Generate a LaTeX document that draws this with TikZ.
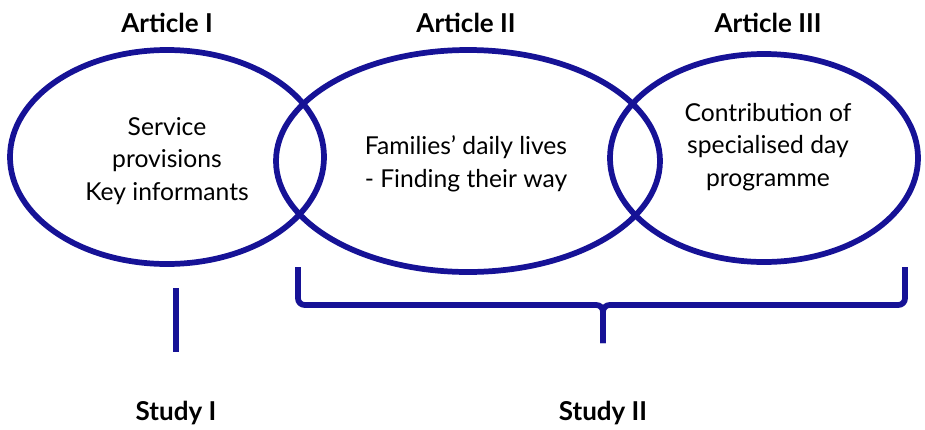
\documentclass[tikz,border=0pt]{standalone}
\usepackage{fontspec}
\setmainfont{Lato}
\usetikzlibrary{shapes.geometric,positioning}
\definecolor{Navy}{RGB}{22,18,150}

\begin{document}
\begin{tikzpicture}[x=0.75pt,y=-0.75pt,
    circ/.style={ellipse, draw=Navy, line width=4.3pt, inner sep=0pt},
    txt/.style={align=center, font=\fontsize{18.5}{24.5}\selectfont},
    head/.style={font=\fontsize{19.5}{22}\selectfont\bfseries},
    bar/.style={draw=Navy, line width=4.3pt, rounded corners=5pt},
    shade/.style={draw=black!12, line width=4.3pt, rounded corners=5pt, xshift=1.5pt, yshift=-2pt}]
        \useasboundingbox (0,0) rectangle (925,429);

        % the three articles
        \node[circ, minimum width={314*0.75pt}, minimum height={214*0.75pt}] (art1) at (167,157) {};
        \node[circ, minimum width={384*0.75pt}, minimum height={222*0.75pt}] (art2) at (468,161) {};
        \node[circ, minimum width={308*0.75pt}, minimum height={208*0.75pt}] (art3) at (764,158) {};
        \node[txt] (t1) at (167,161) {Service\\provisions\\Key informants};
        \node[txt] (t2) at (466,164) {Families’ daily lives\\- Finding their way};
        \node[txt] (t3) at (768,147) {Contribution of\\specialised day\\programme};

        % headings
        \node[head] (h1) at (167,23) {Article I};
        \node[head] (h2) at (466,23) {Article II};
        \node[head] (h3) at (768,23) {Article III};
        \node[head] (s1) at (176,413) {Study I};
        \node[head] (s2) at (603,413) {Study II};

        % line and brace
        \coordinate (l1) at (176,288);
        \coordinate (l2) at (176,352);
        \coordinate (bl) at (298,267);
        \coordinate (br) at (905,267);
        \coordinate (bm) at (603,305);
        \coordinate (tip) at (603,343);
        \draw[shade] (l1) -- (l2);
        \draw[shade] (bl) |- (bm) -- (tip);
        \draw[shade] (br) |- (bm) -- (tip);
        \draw[bar] (l1) -- (l2);
        \draw[bar] (bl) |- (bm) -- (tip);
        \draw[bar] (br) |- (bm) -- (tip);
\end{tikzpicture}
\end{document}
